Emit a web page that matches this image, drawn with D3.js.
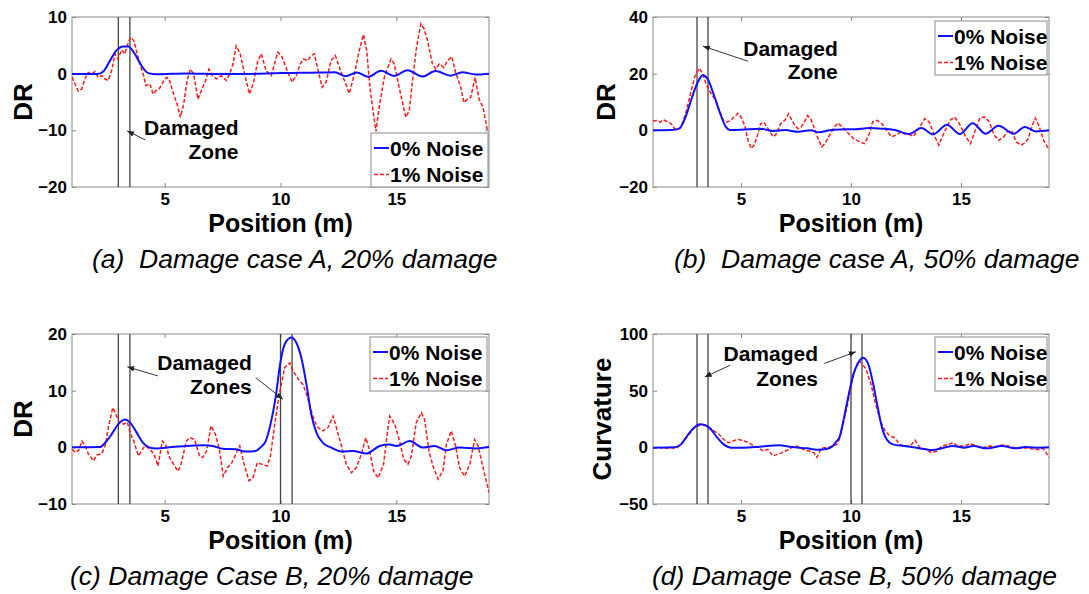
<!DOCTYPE html>
<html>
<head>
<meta charset="utf-8">
<script src="https://cdn.jsdelivr.net/npm/d3@7"></script>
<style>
body { margin: 0; background: #fff; }
svg text { font-family: Arial, "Liberation Sans", Helvetica, sans-serif; }
</style>
</head>
<body>
<svg id="fig" width="1089" height="594"></svg>
<script>
// values: [position (m), value]
var caseA20_n0 = [[1.0,-0.05],[2.1,-0.05],[2.35,0.4],[2.64,2.3],[2.92,4.1],[3.21,4.8],[3.43,4.8],[3.71,3.5],[4.0,1.4],[4.29,0.1],[4.65,-0.1],[5.94,0.05],[7.37,-0.05],[8.38,-0.05],[10.03,0.1],[10.82,0.15],[11.82,0.2],[12.35,0.25],[12.8,-0.45],[13.3,0.2],[13.78,-0.55],[14.34,0.5],[14.9,-0.4],[15.48,0.6],[16.13,-0.5],[16.68,0.45],[17.35,-0.35],[17.85,0.25],[18.43,-0.15],[19.0,0.0]];
var caseA20_n1 = [[1.0,-0.6],[1.27,-3.1],[1.42,-2.7],[1.56,-0.9],[1.7,0.2],[1.85,-0.1],[1.99,0.4],[2.13,-0.65],[2.28,-0.35],[2.42,-0.9],[2.56,-1.2],[2.71,0.5],[2.85,3.5],[2.99,2.6],[3.14,4.2],[3.28,3.5],[3.43,5.5],[3.53,6.4],[3.67,5.8],[3.78,4.1],[3.93,1.7],[4.07,-0.06],[4.19,-2.1],[4.36,-1.8],[4.5,-3.6],[4.62,-3.0],[4.76,-2.7],[4.93,-1.5],[5.08,-0.65],[5.19,-0.9],[5.36,-3.3],[5.54,-5.4],[5.68,-7.7],[5.82,-5.4],[5.97,-1.2],[6.11,0.8],[6.25,-0.06],[6.44,-4.5],[6.58,-3.0],[6.77,-1.2],[6.91,0.8],[7.06,-0.35],[7.23,-0.9],[7.44,-0.35],[7.66,-1.2],[7.8,-0.06],[7.95,1.7],[8.09,4.9],[8.26,3.5],[8.45,-0.06],[8.66,-3.6],[8.84,-1.5],[9.02,2.3],[9.17,3.5],[9.38,0.5],[9.6,-0.35],[9.74,1.7],[9.88,3.8],[10.03,3.2],[10.1,2.6],[10.32,0.2],[10.5,-1.5],[10.68,-0.35],[10.85,1.7],[10.99,2.6],[11.18,2.3],[11.32,3.2],[11.46,3.5],[11.61,0.8],[11.8,-2.4],[11.97,-1.5],[12.18,2.3],[12.37,3.2],[12.54,1.1],[12.76,-1.2],[12.97,-3.5],[13.19,-0.06],[13.4,4.1],[13.58,6.9],[13.72,4.1],[13.86,-2.4],[14.01,-7.1],[14.12,-10.2],[14.26,-5.9],[14.48,-0.65],[14.77,2.6],[14.91,1.7],[15.12,-2.4],[15.41,-7.7],[15.56,-6.5],[15.7,-1.2],[15.87,4.6],[16.06,8.8],[16.2,7.9],[16.35,5.8],[16.56,1.7],[16.7,0.8],[16.85,1.7],[17.06,1.1],[17.21,2.3],[17.39,3.0],[17.56,0.2],[17.78,-2.4],[17.92,-5.1],[18.07,-4.5],[18.21,-4.2],[18.4,-0.65],[18.57,-4.5],[18.74,-5.9],[18.93,-10.0]];

var caseA50_n0 = [[1.0,0],[1.83,0.1],[2.19,0.6],[2.48,4.7],[2.77,11.6],[3.06,17.4],[3.27,19.4],[3.49,18],[3.78,12.2],[4.06,5.8],[4.31,1.2],[4.5,0.1],[5.0,0.2],[5.86,0.6],[6.44,-0.2],[7.01,0.1],[7.59,-0.5],[8.17,0],[8.53,-0.7],[9.03,0],[9.5,0.3],[10.2,0.4],[10.83,0.8],[11.4,0.6],[12.0,0.1],[12.64,-1.3],[13.2,0.8],[13.73,-1.4],[14.36,2.0],[14.95,-1.3],[15.53,2.5],[16.12,-1.2],[16.7,1.6],[17.4,-1.2],[17.9,1.2],[18.39,-0.4],[19.0,0]];
var caseA50_n1 = [[1.0,3.3],[1.19,3.5],[1.33,2.9],[1.47,3.7],[1.69,2.9],[1.83,2.3],[1.98,0.6],[2.12,0.3],[2.27,1.2],[2.48,5.8],[2.7,12.8],[2.91,19.2],[3.1,21.9],[3.24,20.3],[3.42,16.3],[3.56,14],[3.71,12.2],[3.85,10.5],[4.02,7],[4.21,3.5],[4.35,2.9],[4.54,3.5],[4.68,4.7],[4.86,6.0],[5.0,4.7],[5.17,1.7],[5.32,-3.5],[5.46,-6.4],[5.6,-5.2],[5.75,-1.7],[5.89,2.3],[6.04,2.9],[6.18,1.2],[6.32,-0.6],[6.47,-2.3],[6.61,-1.2],[6.8,2.3],[7.01,3.7],[7.16,5.8],[7.3,3.7],[7.45,1.7],[7.59,0.6],[7.73,1.2],[7.88,2.9],[8.02,5.2],[8.17,4.1],[8.31,1.2],[8.53,-3.5],[8.67,-5.8],[8.81,-4.7],[9.03,-1.7],[9.24,1.2],[9.4,2.6],[9.68,0.6],[9.9,-1.2],[10.11,-2.9],[10.4,-4.1],[10.62,-4.7],[10.83,-1.2],[10.98,2.9],[11.19,3.5],[11.41,2.3],[11.62,0],[11.84,-2.3],[12.05,-1.7],[12.27,-0.6],[12.41,-1.2],[12.63,-1.4],[12.84,-2.1],[13.13,1.2],[13.35,4.1],[13.56,2.9],[13.78,-1.7],[13.99,-5.2],[14.21,-1.2],[14.5,3.5],[14.71,4.7],[14.93,2.3],[15.22,-2.3],[15.43,-4.7],[15.65,0],[15.86,4.4],[16.08,4.7],[16.29,2.9],[16.51,-1.7],[16.72,-3.5],[16.94,-2.3],[17.08,-0.6],[17.3,0],[17.51,-4.1],[17.73,-5.2],[17.9,-4.5],[18.05,-3],[18.25,2],[18.38,4.3],[18.55,1.5],[18.75,-3.5],[19.0,-6.8]];

var caseB20_n0 = [[1.0,0],[2.21,0.05],[2.43,0.8],[2.71,2.3],[3.0,4.1],[3.29,4.9],[3.5,4.4],[3.79,2.6],[4.07,0.8],[4.36,-0.05],[4.64,-0.2],[5.21,0],[5.93,0.25],[6.64,0.35],[7.07,0.25],[7.5,-0.25],[8.07,-0.35],[8.5,-0.75],[8.93,-0.65],[9.14,0],[9.36,1.1],[9.57,4.1],[9.79,8.8],[9.98,14.6],[10.18,18.2],[10.47,19.4],[10.68,18.5],[10.9,15.8],[11.12,11.1],[11.33,5.8],[11.55,2.6],[11.83,0.8],[12.19,-0.05],[12.63,-0.75],[13.13,-0.65],[13.71,-1.1],[14.28,0.25],[14.71,0.5],[15.0,0.25],[15.58,1.1],[16.15,-0.05],[16.65,0.25],[17.16,-0.5],[17.73,-0.05],[18.45,-0.2],[19.0,0.1]];
var caseB20_n1 = [[1.0,-0.35],[1.14,-0.9],[1.29,-0.5],[1.43,1.1],[1.57,0.24],[1.71,-1.2],[1.93,-2.4],[2.07,-1.35],[2.29,-1.1],[2.43,0.24],[2.57,3.5],[2.76,7.0],[2.9,5.8],[3.04,4.4],[3.21,4.1],[3.39,4.4],[3.53,2.3],[3.67,1.1],[3.86,-1.5],[4.0,-0.65],[4.14,0.24],[4.29,-0.06],[4.43,-0.65],[4.57,-1.5],[4.71,-3.3],[4.9,1.1],[5.04,0.5],[5.21,-1.8],[5.43,-3.3],[5.57,-4.2],[5.71,-3.0],[5.93,1.1],[6.1,1.7],[6.29,1.4],[6.5,-1.5],[6.64,-1.8],[6.81,-0.65],[7.0,3.8],[7.19,2.3],[7.36,-0.35],[7.53,-5.1],[7.71,-3.6],[7.9,-2.7],[8.07,-1.2],[8.24,0.24],[8.43,-3.0],[8.64,-5.9],[8.81,-5.4],[9.0,-2.7],[9.21,-3.0],[9.43,-3.3],[9.57,-1.5],[9.71,2.9],[9.93,9.0],[10.18,14.1],[10.4,14.9],[10.54,13.5],[10.68,12.6],[10.83,11.7],[10.97,11.1],[11.12,9.4],[11.33,6.4],[11.47,4.6],[11.62,3.5],[11.83,2.9],[12.05,3.5],[12.27,5.5],[12.41,3.5],[12.63,0.24],[12.84,-3.0],[13.06,-4.5],[13.27,-3.6],[13.49,-1.2],[13.68,1.7],[13.85,-0.65],[14.02,-4.2],[14.21,-5.4],[14.45,-3.0],[14.57,1.1],[14.71,5.5],[14.93,4.1],[15.14,1.1],[15.32,-2.1],[15.5,-3.0],[15.65,-1.5],[15.86,4.4],[16.08,6.1],[16.22,4.9],[16.41,-0.65],[16.58,-3.3],[16.8,-5.6],[17.01,-4.2],[17.16,0.5],[17.37,2.9],[17.56,0.24],[17.73,-3.6],[17.95,-5.1],[18.17,-3.0],[18.38,1.4],[18.53,0.24],[18.71,-3.0],[19.0,-8.0]];

var caseB50_n0 = [[1.0,-0.3],[1.98,0],[2.27,2.6],[2.55,10],[2.84,16.8],[3.13,20.3],[3.35,19.7],[3.63,15.9],[3.92,8.5],[4.21,2.6],[4.57,-0.3],[5.14,-0.3],[5.86,0.6],[6.73,1.8],[7.3,0.3],[8.02,-0.9],[8.45,-2.1],[8.88,-1.5],[9.17,1.2],[9.36,5.6],[9.47,8.5],[9.68,26],[9.9,46.8],[10.11,64.4],[10.33,74.7],[10.55,79.1],[10.76,74.7],[10.98,58.5],[11.19,37.9],[11.41,17.4],[11.62,7.1],[11.91,2.6],[12.41,1.2],[12.99,-0.3],[13.71,-2.4],[14.21,-0.3],[14.64,1.2],[15.14,-0.3],[15.57,1.2],[16.15,-0.9],[16.87,1.2],[17.44,-0.9],[17.92,0.3],[18.4,-0.3],[19.0,0]];
var caseB50_n1 = [[1.0,-0.3],[1.26,0],[1.55,-0.9],[1.83,-0.3],[2.05,-0.9],[2.27,2.1],[2.55,9.1],[2.84,16.8],[3.13,19.7],[3.35,19.4],[3.56,17.4],[3.78,14.4],[4.0,11.5],[4.21,7.1],[4.42,4.1],[4.64,5.6],[4.86,7.1],[5.14,5.6],[5.36,4.1],[5.58,1.2],[5.79,-0.3],[6.01,-3.2],[6.22,-1.8],[6.44,-7.6],[6.65,-6.2],[6.87,-4.7],[7.09,-2.6],[7.3,-0.3],[7.52,1.2],[7.81,-1.8],[8.09,-3.2],[8.31,-4.7],[8.45,-8.8],[8.6,-3.0],[8.74,-0.3],[8.96,-0.3],[9.17,1.2],[9.36,2.6],[9.47,7.1],[9.68,23.2],[9.9,43.8],[10.11,64.4],[10.33,76.2],[10.47,74.7],[10.69,68.8],[10.91,55.6],[11.12,37.9],[11.34,23.2],[11.55,14.4],[11.77,10],[11.98,8.5],[12.2,2.6],[12.41,1.2],[12.7,1.2],[12.92,6.2],[13.13,-0.3],[13.42,-1.8],[13.64,-4.7],[13.85,-3.8],[14.14,1.2],[14.43,2.6],[14.64,4.1],[14.86,1.2],[15.14,1.2],[15.43,3.2],[15.72,1.2],[16.0,-0.3],[16.29,1.2],[16.58,0.6],[16.87,2.1],[17.16,1.2],[17.44,-0.3],[17.73,-0.9],[17.92,-0.3],[18.2,-1.2],[18.5,-2.0],[18.75,-1.0],[19.0,-9.0]];

var xTicks = [5, 10, 15];
var yTicksA20 = [-20, -10, 0, 10];
var yTicksA50 = [-20, 0, 20, 40];
var yTicksB20 = [-10, 0, 10, 20];
var yTicksB50 = [-50, 0, 50, 100];
var legendLabels = ["0% Noise", "1% Noise"];
var zoneA = [3.0, 3.5];
var zoneB = [3.0, 3.5, 10.0, 10.5];

var svg = d3.select("#fig");
svg.append("rect").attr("width", 1089).attr("height", 594).attr("fill", "#fff");

var defs = svg.append("defs");
defs.append("marker")
    .attr("id", "arrow")
    .attr("viewBox", "0 0 10 10")
    .attr("refX", 10).attr("refY", 5)
    .attr("markerWidth", 7).attr("markerHeight", 7)
    .attr("markerUnits", "userSpaceOnUse")
    .attr("orient", "auto")
  .append("path")
    .attr("d", "M0,1 L10,5 L0,9 Z")
    .attr("fill", "#222");

var panels = [
  {id: "a", left: 72, right: 489, top: 17, bottom: 187, yDomain: [-20, 10], yTicks: yTicksA20,
   ylabel: "DR", ylabelX: 32, caption: "(a)  Damage case A, 20% damage", captionX: 92,
   s0: caseA20_n0, s1: caseA20_n1, zones: zoneA,
   legend: {x: 371, y: 133, w: 117, h: 54},
   words: ["Damaged", "Zone"], wordX: 8.19, wordY: [-10.8, -15.1],
   arrows: [[4.17, -11.7, 3.38, -10.1]]},
  {id: "b", left: 653, right: 1049, top: 17, bottom: 187, yDomain: [-20, 40], yTicks: yTicksA50,
   ylabel: "DR", ylabelX: 615, caption: "(b)  Damage case A, 50% damage", captionX: 674,
   s0: caseA50_n0, s1: caseA50_n1, zones: zoneA,
   legend: {x: 935, y: 21, w: 112, h: 54},
   words: ["Damaged", "Zone"], wordX: 9.4, wordY: [26.4, 18],
   arrows: [[5.32, 24.4, 3.27, 29.7]]},
  {id: "c", left: 72, right: 489, top: 334, bottom: 504, yDomain: [-10, 20], yTicks: yTicksB20,
   ylabel: "DR", ylabelX: 32, caption: "(c) Damage Case B, 20% damage", captionX: 70,
   s0: caseB20_n0, s1: caseB20_n1, zones: zoneB,
   legend: {x: 370, y: 337, w: 117, h: 54},
   words: ["Damaged", "Zones"], wordX: 8.76, wordY: [13.6, 9.35],
   arrows: [[4.71, 12.6, 3.39, 14.2], [8.93, 12.3, 10.1, 8.5]]},
  {id: "d", left: 653, right: 1049, top: 334, bottom: 504, yDomain: [-50, 100], yTicks: yTicksB50,
   ylabel: "Curvature", ylabelX: 611, caption: "(d) Damage Case B, 50% damage", captionX: 652,
   s0: caseB50_n0, s1: caseB50_n1, zones: zoneB,
   legend: {x: 935, y: 337, w: 112, h: 54},
   words: ["Damaged", "Zones"], wordX: 8.5, wordY: [76.1, 54.5],
   arrows: [[4.51, 72.5, 3.35, 62], [8.79, 74, 10.22, 84.3]]}
];

function drawPanel(p) {
    var x = d3.scaleLinear().domain([1, 19]).range([p.left, p.right]);
    var y = d3.scaleLinear().domain(p.yDomain).range([p.bottom, p.top]);
    var g = svg.append("g").attr("class", "panel-" + p.id);

    defs.append("clipPath").attr("id", "clip-" + p.id)
      .append("rect")
        .attr("x", p.left).attr("y", p.top)
        .attr("width", p.right - p.left).attr("height", p.bottom - p.top);

    // axes, ticks pointing inwards like matlab
    var ax = g.append("g").attr("transform", "translate(0," + p.bottom + ")")
        .call(d3.axisBottom(x).tickValues(xTicks).tickSize(-4).tickPadding(6));
    g.append("g").attr("transform", "translate(0," + p.top + ")")
        .call(d3.axisTop(x).tickValues(xTicks).tickSize(-4).tickFormat(""));
    var ay = g.append("g").attr("transform", "translate(" + p.left + ",0)")
        .call(d3.axisLeft(y).tickValues(p.yTicks).tickSize(-4).tickPadding(5));
    g.append("g").attr("transform", "translate(" + p.right + ",0)")
        .call(d3.axisRight(y).tickValues(p.yTicks).tickSize(-4).tickFormat(""));
    g.selectAll(".domain").remove();
    g.selectAll(".tick line").attr("stroke", "#888");
    [ax, ay].forEach(function(a){
        a.selectAll("text").attr("fill", "#000").attr("font-size", 17).attr("font-weight", "bold")
         .style("font-family", "Arial, 'Liberation Sans', sans-serif");
    });

    g.append("rect")
        .attr("x", p.left).attr("y", p.top)
        .attr("width", p.right - p.left).attr("height", p.bottom - p.top)
        .attr("fill", "none").attr("stroke", "#8a8a8a").attr("stroke-width", 1);

    // damaged zone markers
    g.selectAll(".zone").data(p.zones).enter().append("line")
        .attr("x1", function(d){ return x(d); }).attr("x2", function(d){ return x(d); })
        .attr("y1", p.top).attr("y2", p.bottom)
        .attr("stroke", "#444").attr("stroke-width", 1.3);

    var line = d3.line().x(function(d){ return x(d[0]); }).y(function(d){ return y(d[1]); });
    var plot = g.append("g").attr("clip-path", "url(#clip-" + p.id + ")");
    plot.append("path").datum(p.s1)
        .attr("d", line.curve(d3.curveLinear))
        .attr("fill", "none").attr("stroke", "#ff1a1a").attr("stroke-width", 1.5)
        .attr("stroke-dasharray", "4,2");
    plot.append("path").datum(p.s0)
        .attr("d", line.curve(d3.curveMonotoneX))
        .attr("fill", "none").attr("stroke", "#1010ff").attr("stroke-width", 2);

    // annotation
    g.selectAll(".word").data(p.words).enter().append("text")
        .attr("x", x(p.wordX))
        .attr("y", function(d, i){ return y(p.wordY[i]); })
        .attr("text-anchor", "end")
        .attr("font-size", 21).attr("font-weight", "bold")
        .text(function(d){ return d; });
    g.selectAll(".arr").data(p.arrows).enter().append("line")
        .attr("x1", function(d){ return x(d[0]); }).attr("y1", function(d){ return y(d[1]); })
        .attr("x2", function(d){ return x(d[2]); }).attr("y2", function(d){ return y(d[3]); })
        .attr("stroke", "#333").attr("stroke-width", 1)
        .attr("marker-end", "url(#arrow)");

    // legend
    var lg = g.append("g").attr("transform", "translate(" + p.legend.x + "," + p.legend.y + ")");
    lg.append("rect").attr("width", p.legend.w).attr("height", p.legend.h)
        .attr("fill", "#fff").attr("stroke", "#8a8a8a");
    var styles = [{c: "#1010ff", dash: null, w: 2}, {c: "#ff1a1a", dash: "4,2", w: 1.5}];
    legendLabels.forEach(function(lab, i){
        var cy = 15 + i * 26.5;
        lg.append("line").attr("x1", 3).attr("x2", 18).attr("y1", cy).attr("y2", cy)
            .attr("stroke", styles[i].c).attr("stroke-width", styles[i].w)
            .attr("stroke-dasharray", styles[i].dash);
        lg.append("text").attr("x", 19).attr("y", cy + 7.5)
            .attr("font-size", 21).attr("font-weight", "bold").text(lab);
    });

    // axis titles
    g.append("text")
        .attr("x", (p.left + p.right) / 2).attr("y", p.bottom + 45)
        .attr("text-anchor", "middle").attr("font-size", 25).attr("font-weight", "bold")
        .text("Position (m)");
    g.append("text")
        .attr("transform", "translate(" + p.ylabelX + "," + (p.top + p.bottom) / 2 + ") rotate(-90)")
        .attr("text-anchor", "middle").attr("font-size", 26).attr("font-weight", "bold")
        .text(p.ylabel);

    g.append("text")
        .attr("x", p.captionX).attr("y", p.bottom + 81)
        .attr("font-size", 26.5).attr("font-style", "italic")
        .style("white-space", "pre")
        .text(p.caption);
}

panels.forEach(drawPanel);
</script>
</body>
</html>
